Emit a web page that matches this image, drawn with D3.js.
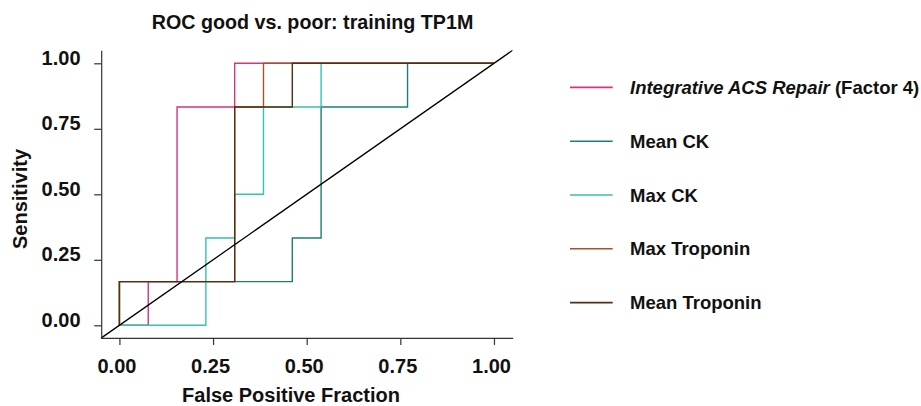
<!DOCTYPE html>
<html>
<head>
<meta charset="utf-8">
<script src="https://cdn.jsdelivr.net/npm/d3@7"></script>
<style>
  html, body { margin: 0; padding: 0; background: #fff; }
  svg { display: block; }
  text { font-family: "Liberation Sans", Arial, Helvetica, sans-serif; font-weight: bold; fill: #111; }
</style>
</head>
<body>
<svg id="chart" width="921" height="406"></svg>
<script>
// ---- data ----
const title = "ROC good vs. poor: training TP1M";
const xTitle = "False Positive Fraction";
const yTitle = "Sensitivity";
const tickValues = [0, 0.25, 0.5, 0.75, 1];
const tickLabels = ["0.00", "0.25", "0.50", "0.75", "1.00"];
const seriesNames = ["Integrative ACS Repair", "Mean CK", "Max CK", "Max Troponin", "Mean Troponin"];
const seriesColors = ["#d1357c", "#1c7f70", "#33c4ac", "#a5532a", "#5b2d10"];
// ROC points (false positive fraction, sensitivity); 13 negatives, 6 positives
const fprIntegrative = [0, 1/13, 1/13, 2/13, 2/13, 4/13, 4/13, 1];
const tprIntegrative = [0, 0, 1/6, 1/6, 5/6, 5/6, 1, 1];
const fprMeanCK = [0, 0, 6/13, 6/13, 7/13, 7/13, 10/13, 10/13, 1];
const tprMeanCK = [0, 1/6, 1/6, 2/6, 2/6, 5/6, 5/6, 1, 1];
const fprMaxCK = [0, 3/13, 3/13, 4/13, 4/13, 5/13, 5/13, 7/13, 7/13, 1];
const tprMaxCK = [0, 0, 2/6, 2/6, 3/6, 3/6, 5/6, 5/6, 1, 1];
const fprMaxTrop = [0, 0, 4/13, 4/13, 5/13, 5/13, 1];
const tprMaxTrop = [0, 1/6, 1/6, 5/6, 5/6, 1, 1];
const fprMeanTrop = [0, 0, 4/13, 4/13, 6/13, 6/13, 1];
const tprMeanTrop = [0, 1/6, 1/6, 5/6, 5/6, 1, 1];
const domainPad = [-0.05, 1.05];

const seriesFpr = [fprIntegrative, fprMeanCK, fprMaxCK, fprMaxTrop, fprMeanTrop];
const seriesTpr = [tprIntegrative, tprMeanCK, tprMaxCK, tprMaxTrop, tprMeanTrop];

// ---- layout ----
const svg = d3.select("#chart");
const x = d3.scaleLinear().domain(domainPad).range([100.7, 512.7]);
const y = d3.scaleLinear().domain(domainPad).range([338.4, 50.2]);

// title
svg.append("text").attr("x", 312.5).attr("y", 29).attr("text-anchor", "middle")
  .style("font-size", "19.7px").text(title);

// clip
svg.append("clipPath").attr("id", "clip").append("rect")
  .attr("x", x.range()[0]).attr("y", y.range()[1])
  .attr("width", x.range()[1] - x.range()[0]).attr("height", y.range()[0] - y.range()[1]);

const plot = svg.append("g").attr("clip-path", "url(#clip)");
const line = d3.line().x(d => x(d[0])).y(d => y(d[1]));

seriesNames.forEach((name, i) => {
  const pts = seriesFpr[i].map((f, j) => [f, seriesTpr[i][j]]);
  plot.append("path").datum(pts).attr("d", line)
    .attr("fill", "none").attr("stroke", seriesColors[i]).attr("stroke-width", 1.4);
});

// diagonal reference
plot.append("path").datum([[domainPad[0], domainPad[0]], [domainPad[1], domainPad[1]]])
  .attr("d", line).attr("fill", "none").attr("stroke", "#000").attr("stroke-width", 1.3);

// axes
const xAxis = svg.append("g").attr("transform", `translate(0,${y.range()[0] - 0.5})`)
  .call(d3.axisBottom(x).tickValues(tickValues).tickFormat((d, i) => tickLabels[i]).tickSize(7).tickSizeOuter(0));
const yAxis = svg.append("g").attr("transform", `translate(${x.range()[0] + 0.5},0)`)
  .call(d3.axisLeft(y).tickValues(tickValues).tickFormat((d, i) => tickLabels[i]).tickSize(7).tickSizeOuter(0));

[xAxis, yAxis].forEach(a => {
  a.select(".domain").attr("stroke", "#333").attr("stroke-width", 1.2);
  a.selectAll(".tick line").attr("stroke", "#333").attr("stroke-width", 1.2);
  a.selectAll(".tick text").attr("fill", "#111")
    .style("font-family", '"Liberation Sans", Arial, sans-serif')
    .style("font-weight", "bold").style("font-size", "20px");
});
xAxis.selectAll(".tick text").attr("x", -3).attr("y", 0).attr("dy", null)
  .attr("transform", "translate(0,35)");
yAxis.selectAll(".tick text").attr("x", -20.7).attr("dy", "0.05em");

// axis titles
svg.append("text").attr("x", 291).attr("y", 401.5).attr("text-anchor", "middle")
  .style("font-size", "20px").text(xTitle);
svg.append("text").attr("transform", "translate(26.5,199) rotate(-90)").attr("text-anchor", "middle")
  .style("font-size", "20px").text(yTitle);

// legend
const lg = svg.append("g");
seriesNames.forEach((name, i) => {
  const cy = 87.4 + i * 53.8;
  lg.append("line").attr("x1", 570).attr("x2", 612.7).attr("y1", cy).attr("y2", cy)
    .attr("stroke", seriesColors[i]).attr("stroke-width", 1.6);
  const t = lg.append("text").attr("x", 630).attr("y", cy + 6.6).style("font-size", "18.5px");
  if (i === 0) {
    t.append("tspan").style("font-style", "italic").text(name);
    t.append("tspan").text(" (Factor 4)");
  } else {
    t.text(name);
  }
});
</script>
</body>
</html>
